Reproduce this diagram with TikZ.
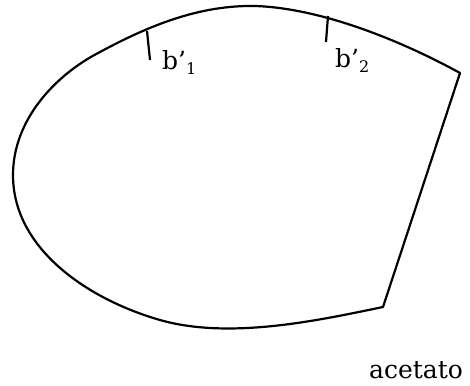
\documentclass[tikz,border=0pt]{standalone}
\usepackage{fontspec}
\setmainfont{DejaVu Serif}
\begin{document}
\begin{tikzpicture}[x=1pt,y=-1pt,
  outline/.style={line width=2.2pt, line join=round},
  tick/.style={line width=2.2pt},
  lbl/.style={anchor=base west, inner sep=0pt, font=\fontsize{25}{28}\selectfont}]
\useasboundingbox (0,0) rectangle (470,385);
\draw[outline] (460,73) .. controls (400,40) and (320,8) .. (255,6)
  .. controls (200,5) and (150,25) .. (100,52)
  .. controls (55,75) and (13,120) .. (13,175)
  .. controls (13,250) and (90,300) .. (160,320)
  .. controls (230,340) and (320,320) .. (383,307) -- cycle;
\coordinate (t1a) at (147,31);
\coordinate (t1b) at (150,60);
\coordinate (t2a) at (328,16);
\coordinate (t2b) at (326,42);
\draw[tick] (t1a) -- (t1b);
\draw[tick] (t2a) -- (t2b);
\node[lbl] (b1) at (162,70) {b’\raisebox{-0.35ex}{\fontsize{16}{18}\selectfont 1}};
\node[lbl] (b2) at (335,68) {b’\raisebox{-0.35ex}{\fontsize{16}{18}\selectfont 2}};
\node[lbl] (ac) at (369,378) {acetato};
\end{tikzpicture}
\end{document}
